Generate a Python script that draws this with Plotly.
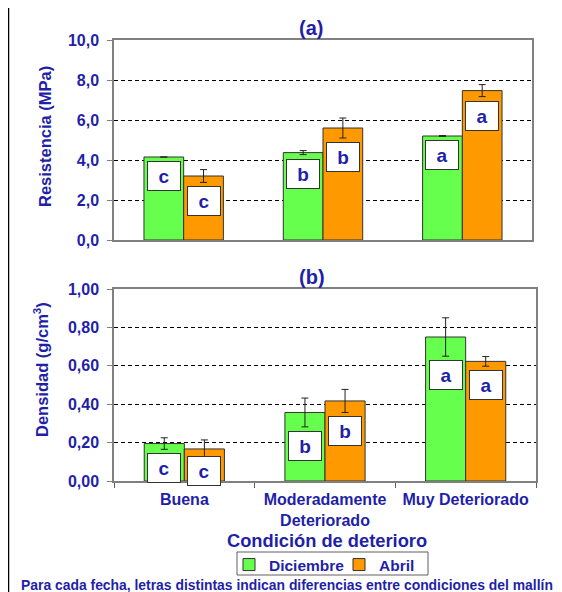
import plotly.graph_objects as go

categories = ["Buena", "Moderadamente<br>Deteriorado", "Muy Deteriorado"]
series = ["Diciembre", "Abril"]

res_dic = [4.15, 4.37, 5.20]
res_dic_err = [None, 0.10, 0.02]
res_abr = [3.20, 5.60, 7.47]
res_abr_err = [0.32, 0.50, 0.30]
res_letters_dic = ["c", "b", "a"]
res_letters_abr = ["c", "b", "a"]

den_dic = [0.195, 0.357, 0.750]
den_dic_err = [0.030, 0.075, 0.100]
den_abr = [0.167, 0.417, 0.623]
den_abr_err = [0.047, 0.060, 0.025]
den_letters_dic = ["c", "b", "a"]
den_letters_abr = ["c", "b", "a"]

res_ticks = [0, 2, 4, 6, 8, 10]
den_ticks = [0, 0.2, 0.4, 0.6, 0.8, 1.0]

GREEN = "#66FF4D"
ORANGE = "#FF9900"
BLUE = "#1F1FA8"
FONT = "Liberation Sans"
OFF = 8  # page body margin
W, H = 562 - OFF, 592 - OFF
ML, MR, MT, MB = 114 - OFF, 26, 40 - OFF, 111
PW, PH = W - ML - MR, H - MT - MB


def px(x):
    return (x - OFF - ML) / PW


def py(y):
    return (H - MB - (y - OFF)) / PH


fig = go.Figure()
cols = [GREEN, ORANGE]
panels = [
    ("x", "y", [res_dic, res_abr], [res_dic_err, res_abr_err]),
    ("x2", "y2", [den_dic, den_abr], [den_dic_err, den_abr_err]),
]
for pi, (xa, ya, vals, errs) in enumerate(panels):
    for si in range(2):
        fig.add_trace(go.Bar(
            x=categories, y=vals[si], name=series[si], xaxis=xa, yaxis=ya,
            marker=dict(color=cols[si], line=dict(color="#333333", width=1)),
            error_y=dict(type="data", array=errs[si], color="#222222",
                         thickness=1, width=3.5, visible=True),
            showlegend=(pi == 1), offsetgroup=str(si),
        ))

bargap = 0.43
half = (1 - bargap) / 4
letter_sets = [
    ("x", "y", [res_dic, res_abr], [res_dic_err, res_abr_err],
     [res_letters_dic, res_letters_abr], 1.5),
    ("x2", "y2", [den_dic, den_abr], [den_dic_err, den_abr_err],
     [den_letters_dic, den_letters_abr], 0.15),
]
anns = []
for xa, ya, vals, errs, letters, minpos in letter_sets:
    for si in range(2):
        for ci in range(3):
            e = errs[si][ci] or 0
            top = max(vals[si][ci] - e, minpos)
            anns.append(dict(
                x=ci + (-half if si == 0 else half), y=top, xref=xa, yref=ya,
                text=letters[si][ci], showarrow=False, xanchor="center",
                yanchor="top", yshift=-4,
                bgcolor="white", bordercolor="#333333", borderwidth=1,
                borderpad=1, width=30, height=26,
                font=dict(family=FONT, size=19, color=BLUE, weight="bold"),
            ))

txt = dict(family=FONT, color=BLUE, weight="bold")


def label(x, y, text, size, angle=0):
    return dict(x=px(x), y=py(y), xref="paper", yref="paper", text=text,
                showarrow=False, xanchor="center", yanchor="middle",
                textangle=angle, font=dict(**txt, size=size))


anns += [
    label(311, 28, "(a)", 20),
    label(312, 277, "(b)", 20),
    label(45, 137, "Resistencia (MPa)", 16.5, -90),
    label(41, 370, "Densidad (g/cm<sup>3</sup>)", 16.5, -90),
    label(327, 540, "Condición de deterioro", 18.3),
    label(287, 585, "Para cada fecha, letras distintas indican diferencias entre condiciones del mallín", 13.9),
]

axis_common = dict(showline=True, mirror=True, linecolor="#808080", linewidth=1.5)
yaxis_common = dict(
    **axis_common, showgrid=True, gridcolor="black", griddash="4px,3px", gridwidth=1,
    zeroline=False, ticks="outside", ticklen=5, tickcolor="#808080",
    ticklabelstandoff=5, automargin=False,
    tickfont=dict(family=FONT, size=16, color=BLUE, weight="bold"),
)

fig.update_layout(
    width=W, height=H,
    margin=dict(l=ML, r=MR, t=MT, b=MB, autoexpand=False),
    paper_bgcolor="white", plot_bgcolor="white", separators=",.",
    barmode="group", bargap=bargap, bargroupgap=0,
    xaxis=dict(**axis_common, domain=[0, px(532)], anchor="y", automargin=False,
               showticklabels=False, ticks="", type="category"),
    xaxis2=dict(**axis_common, domain=[0, 1], anchor="y2", type="category",
                ticks="outside", tickson="boundaries", ticklen=5, tickcolor="#606060",
                ticklabelstandoff=3, automargin=False,
                tickfont=dict(family=FONT, size=16, color=BLUE, weight="bold")),
    yaxis=dict(**yaxis_common, domain=[py(240), 1], anchor="x", range=[0, 10],
               tickvals=res_ticks, tickformat=".1f"),
    yaxis2=dict(**yaxis_common, domain=[0, py(289)], anchor="x2", range=[0, 1],
                tickvals=den_ticks, tickformat=".2f"),
    legend=dict(orientation="h", x=px(229), y=py(548), xanchor="left", yanchor="top",
                borderwidth=0, bgcolor="rgba(0,0,0,0)",
                font=dict(family=FONT, size=15.5, color=BLUE, weight="bold"),
                itemwidth=30, tracegroupgap=0, entrywidth=65, entrywidthmode="pixels"),
    annotations=anns,
    shapes=[
        dict(type="line", xref="paper", yref="paper", x0=px(8.5), x1=px(8.5),
             y0=py(592), y1=py(0), line=dict(color="black", width=1.5)),
        dict(type="rect", xref="paper", yref="paper", x0=px(237), x1=px(428),
             y0=py(575), y1=py(552), line=dict(color="#606060", width=1),
             layer="below"),
    ],
)

fig.write_html("out.html")
